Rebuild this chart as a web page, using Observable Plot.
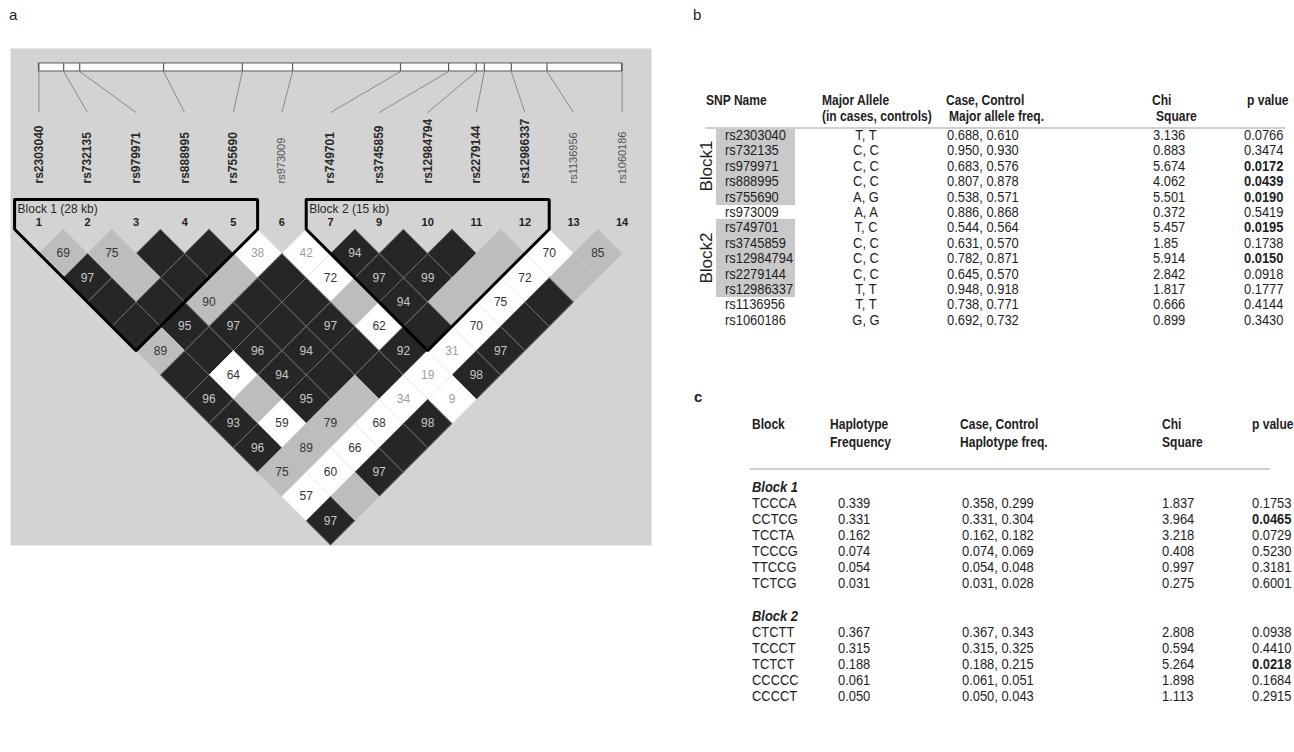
<!DOCTYPE html>
<html><head><meta charset="utf-8">
<script src="https://cdn.jsdelivr.net/npm/d3@7"></script>
<script src="https://cdn.jsdelivr.net/npm/@observablehq/plot@0.6"></script>
<style>
body{margin:0;background:#fff;width:1294px;height:752px;position:relative;overflow:hidden;font-family:"Liberation Sans",Arial,sans-serif;}
#a{position:absolute;left:0;top:0;}
.t{position:absolute;white-space:nowrap;height:16px;line-height:16px;font-family:"Liberation Sans",Arial,sans-serif;font-size:15px;color:#1e1e1e;transform:scaleX(0.86);transform-origin:0 50%;}
.box{position:absolute;background:#c9c9c9;}
.rule{position:absolute;height:1.5px;background:#cfcfcf;}
.lbl{position:absolute;font-size:15px;color:#222;}
</style></head><body>
<div class="lbl" style="left:9px;top:6px;">a</div>
<div class="lbl" style="left:693px;top:6px;">b</div>
<div class="lbl" style="left:694px;top:388px;font-weight:bold;">c</div>
<div id="a"></div>
<div id="tables"></div>
<script>
// ---------- data ----------
const snpNames = ["rs2303040","rs732135","rs979971","rs888995","rs755690","rs973009","rs749701","rs3745859","rs12984794","rs2279144","rs12986337","rs1136956","rs1060186"];
const markerNumbers = [1,2,3,4,5,6,7,9,10,11,12,13,14];
const physKb = [0, 3.4, 5.6, 17.1, 27.9, 34.8, 49.6, 56.2, 60.0, 61.1, 64.8, 69.7, 80.0];
const snpBlock = [1,1,1,1,1,0,2,2,2,2,2,0,0];
const ldBlocks = [{label:"Block 1 (28 kb)", first:0, last:4}, {label:"Block 2 (15 kb)", first:6, last:10}];
// D' (x100) by marker distance (row 1 = adjacent markers); 100 = shown blank
const ldValue = [
  [69,75,100,100,38,42,94,100,100,100,70,85],
  [97,100,100,100,100,72,97,99,100,72,100],
  [100,100,90,100,100,100,94,100,75,100],
  [100,95,97,100,97,62,100,70,100],
  [89,100,96,94,100,92,31,97],
  [100,64,94,100,100,19,98],
  [96,100,95,100,34,9],
  [93,59,79,68,98],
  [96,89,66,100],
  [75,60,97],
  [57,100],
  [97]
];
// shading: b = strong LD, g = intermediate, w = weak
const ldShade = [
  "ggbbwwbbbgwg",
  "bgbgbwbbgwg",
  "bbgbbgbgwb",
  "bbbbbwbwb",
  "gbbbbbwb",
  "bwbbbwb",
  "bgbgww",
  "bwgwb",
  "bgwb",
  "gwb",
  "wg",
  "b"
];
const majorAllele = ["T, T","C, C","C, C","C, C","A, G","A, A","T, C","C, C","C, C","C, C","T, T","T, T","G, G"];
const alleleFreq = ["0.688, 0.610","0.950, 0.930","0.683, 0.576","0.807, 0.878","0.538, 0.571","0.886, 0.868","0.544, 0.564","0.631, 0.570","0.782, 0.871","0.645, 0.570","0.948, 0.918","0.738, 0.771","0.692, 0.732"];
const snpChi = ["3.136","0.883","5.674","4.062","5.501","0.372","5.457","1.85","5.914","2.842","1.817","0.666","0.899"];
const snpP = ["0.0766","0.3474","0.0172","0.0439","0.0190","0.5419","0.0195","0.1738","0.0150","0.0918","0.1777","0.4144","0.3430"];

const hapBlocks = ["Block 1","Block 2"];
const hapNames = [["TCCCA","CCTCG","TCCTA","TCCCG","TTCCG","TCTCG"],["CTCTT","TCCCT","TCTCT","CCCCC","CCCCT"]];
const hapFreq = [["0.339","0.331","0.162","0.074","0.054","0.031"],["0.367","0.315","0.188","0.061","0.050"]];
const hapCaseCtrl = [["0.358, 0.299","0.331, 0.304","0.162, 0.182","0.074, 0.069","0.054, 0.048","0.031, 0.028"],["0.367, 0.343","0.315, 0.325","0.188, 0.215","0.061, 0.051","0.050, 0.043"]];
const hapChi = [["1.837","3.964","3.218","0.408","0.997","0.275"],["2.808","0.594","5.264","1.898","1.113"]];
const hapP = [["0.1753","0.0465","0.0729","0.5230","0.3181","0.6001"],["0.0938","0.4410","0.0218","0.1684","0.2915"]];

// ---------- layout (diagram units: x = i+j, y = marker distance) ----------
const Y_BAR_TOP = -6.82, Y_BAR_BOT = -6.49, Y_CONN = -4.8, Y_NAME = -1.88, Y_BLOCKTOP = -1.22, Y_BLOCKLBL = -0.81, Y_NUM = -0.28;
const n = snpNames.length;
const kx = d3.scaleLinear([physKb[0], physKb[n-1]], [0, 2*(n-1)]);
const markers = snpNames.map((name,i)=>({name, i, k:2*i, num:String(markerNumbers[i]), inBlock:snpBlock[i]>0, physK:kx(physKb[i])}));
const cells = [];
ldValue.forEach((row,r)=>{const d=r+1; row.forEach((v,i)=>cells.push({i, j:i+d, k:2*i+d, d, value:v, shade:ldShade[r][i]}));});
const fillOf = {b:"#262626", g:"#bdbdbd", w:"#ffffff"};
const strokeOf = {b:"#6c6c6c", g:"#c4c4c4", w:"#ececec"};
const verts = cells.flatMap((c,id)=>[[0,-1],[1,0],[0,1],[-1,0],[0,-1]].map(([dx,dy])=>({id, x:c.k+dx, y:c.d+dy, shade:c.shade})));
const outline = ldBlocks.flatMap((b,id)=>[
  {id,x:2*b.first-1,y:Y_BLOCKTOP},{id,x:2*b.first-1,y:0},{id,x:b.first+b.last,y:b.last-b.first+1},
  {id,x:2*b.last+1,y:0},{id,x:2*b.last+1,y:Y_BLOCKTOP},{id,x:2*b.first-1,y:Y_BLOCKTOP}]);
const shown = cells.filter(c=>c.value<100);
const bar = [{x1:kx(physKb[0]), x2:kx(physKb[n-1])}];

const plotA = Plot.plot({
  width:660, height:560, marginLeft:10, marginTop:48, marginRight:9, marginBottom:15,
  x:{domain:[0,24], range:[38.4,621.6], axis:null},
  y:{domain:[0,12], range:[228.7,520.3], axis:null},
  color:{type:"identity"},
  style:{fontFamily:"Liberation Sans, Arial, sans-serif", background:"transparent"},
  marks:[
    Plot.frame({fill:"#d3d3d3", stroke:"none"}),
    Plot.rect(bar,{x1:"x1", x2:"x2", y1:()=>Y_BAR_TOP, y2:()=>Y_BAR_BOT, fill:"#ffffff", stroke:"#5a5a5a", strokeWidth:1}),
    Plot.ruleX(markers,{x:"physK", y1:()=>Y_BAR_TOP, y2:()=>Y_BAR_BOT, stroke:"#5a5a5a", strokeWidth:1.2}),
    Plot.link(markers,{x1:"physK", y1:()=>Y_BAR_BOT, x2:"k", y2:()=>Y_CONN, stroke:"#8a8a8a", strokeWidth:1}),
    Plot.text(markers.filter(m=>m.inBlock),{x:"k", y:()=>Y_NAME, text:"name", rotate:-90, textAnchor:"start", fontWeight:"bold", fontSize:12, fill:"#2a2a2a"}),
    Plot.text(markers.filter(m=>!m.inBlock),{x:"k", y:()=>Y_NAME, text:"name", rotate:-90, textAnchor:"start", fontSize:11, fill:"#555"}),
    Plot.text(markers,{x:"k", y:()=>Y_NUM, text:"num", fontWeight:"bold", fontSize:11, fill:"#222"}),
    Plot.line(verts,{x:"x", y:"y", z:"id", fill:d=>fillOf[d.shade], stroke:d=>strokeOf[d.shade], strokeWidth:1, curve:"linear"}),
    Plot.line(outline,{x:"x", y:"y", z:"id", stroke:"#000", strokeWidth:3, strokeLinejoin:"miter"}),
    Plot.text(ldBlocks,{x:d=>2*d.first-1, y:()=>Y_BLOCKLBL, text:"label", textAnchor:"start", dx:3, fontSize:12, fill:"#2a2a2a"}),
    Plot.text(shown,{x:"k", y:"d", text:d=>String(d.value), fontSize:12,
      fill:d=>d.shade==="b"?"#c8c8c8":(d.value<50?"#9e9e9e":"#333")})
  ]
});
document.getElementById("a").appendChild(plotA);

// ---------- tables ----------
const T = document.getElementById("tables");
function put(text,x,cy,opt={}){
  const e=document.createElement("div"); e.className="t"; e.textContent=text;
  e.style.top=(cy-8)+"px";
  if(opt.center){e.style.left=(x-100)+"px"; e.style.width="200px"; e.style.textAlign="center"; e.style.transformOrigin="50% 50%";}
  else e.style.left=x+"px";
  if(opt.bold) e.style.fontWeight="bold";
  if(opt.italic) e.style.fontStyle="italic";
  if(opt.size) e.style.fontSize=opt.size+"px";
  T.appendChild(e); return e;
}
function rect(cls,x,y,w,h){const e=document.createElement("div"); e.className=cls; Object.assign(e.style,{left:x+"px",top:y+"px",width:w+"px",height:h+"px"}); T.appendChild(e);}
const H = {bold:true, size:14};

// table b
const bRow0=135, bStep=15.4;
const rowY = r=>bRow0+bStep*r;
[1,2].forEach(b=>{
  const idx=snpBlock.map((v,i)=>v===b?i:-1).filter(i=>i>=0);
  const y0=rowY(idx[0])-8.5, y1=rowY(idx[idx.length-1])+8.5;
  rect("box",716,y0,79,y1-y0);
  const e=put("Block"+b,0,0);
  e.style.left=(707-40)+"px"; e.style.width="80px"; e.style.textAlign="center";
  e.style.top=((y0+y1)/2-8)+"px"; e.style.transform="rotate(-90deg)"; e.style.transformOrigin="50% 50%";
  e.style.fontSize="17px";
});
put("SNP Name",706,100,H);
put("Major Allele",822,100,H); put("(in cases, controls)",822,116,H);
put("Case, Control",946,100,H); put("Major allele freq.",949,116,H);
put("Chi",1152,100,H); put("Square",1156,116,H);
put("p value",1247,100,H);
rect("rule",705,127,580,1.5);
snpNames.forEach((s,r)=>{
  const y=rowY(r);
  put(s,725,y); put(majorAllele[r],866,y,{center:true}); put(alleleFreq[r],947,y);
  put(snpChi[r],1153,y); put(snpP[r],1244,y,{bold:+snpP[r]<0.05});
});

// table c
put("Block",752,424,H);
put("Haplotype",830,424,H); put("Frequency",830,442,H);
put("Case, Control",960,424,H); put("Haplotype freq.",960,442,H);
put("Chi",1162,424,H); put("Square",1162,442,H);
put("p value",1252,424,H);
rect("rule",750,468,520,1.5);
const cStarts=[487,616], cStep=16;
hapBlocks.forEach((b,bi)=>{
  put(b,752,cStarts[bi],{bold:true,italic:true});
  hapNames[bi].forEach((h,r)=>{
    const y=cStarts[bi]+cStep*(r+1);
    put(h,752,y); put(hapFreq[bi][r],838,y); put(hapCaseCtrl[bi][r],962,y);
    put(hapChi[bi][r],1162,y); put(hapP[bi][r],1252,y,{bold:+hapP[bi][r]<0.05});
  });
});
</script>
</body></html>
